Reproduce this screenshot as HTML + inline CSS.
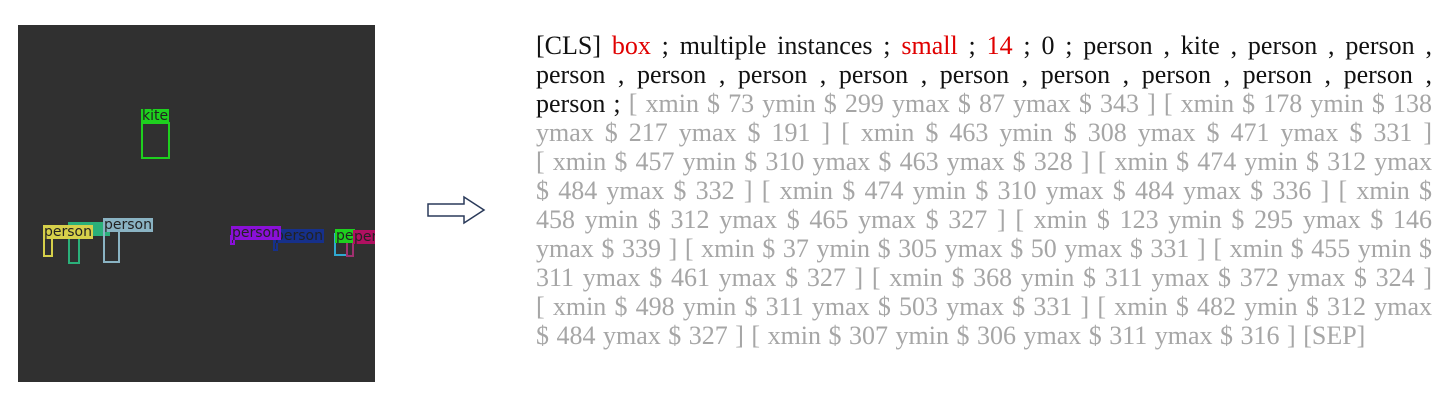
<!DOCTYPE html>
<html><head><meta charset="utf-8"><style>
body{margin:0;width:1450px;height:402px;background:#fff;position:relative;overflow:hidden;font-family:"Liberation Serif",serif}
.img{position:absolute;left:18px;top:25px;width:357px;height:357px;background:#303030;overflow:hidden}
.b{position:absolute;box-sizing:border-box;border:2px solid}
.l{position:absolute;font-family:"DejaVu Sans",sans-serif;font-size:14px;line-height:14px;padding:0 1px;color:#222;white-space:nowrap;overflow:hidden}
.t{position:absolute;left:536px;width:896px;top:31px;font-size:26px;line-height:29px;color:#111}
.t div{text-align:justify;text-align-last:justify;white-space:nowrap;height:29px}
.t div.n{text-align-last:left;word-spacing:1px}
.r{color:#e00000}.g{color:#a6a6a6}
</style></head><body>
<div class="img">
 <div class="b" style="left:123px;top:97px;width:29px;height:37px;border-color:#1ed01e"></div>
 <div class="l" style="left:123px;top:84px;background:#1ed01e">kite</div>
 <div class="b" style="left:50px;top:201px;width:12px;height:38px;border-color:#2bb07a"></div>
 <div class="l" style="left:50px;top:197px;background:#2bb07a;width:40px">so</div>
 <div class="b" style="left:25px;top:210px;width:10px;height:22px;border-color:#d6d04a"></div>
 <div class="l" style="left:25px;top:200px;background:#d6d04a">person</div>
 <div class="b" style="left:85px;top:205px;width:17px;height:33px;border-color:#8ab3c3"></div>
 <div class="l" style="left:85px;top:193px;background:#8ab3c3">person</div>
 <div class="b" style="left:212px;top:210px;width:5px;height:10px;border-color:#8a10d8"></div>
 <div class="b" style="left:255px;top:212px;width:5px;height:14px;border-color:#16308a"></div>
 <div class="l" style="left:256px;top:204px;background:#16308a;width:48px">person</div>
 <div class="l" style="left:213px;top:201px;background:#8a10d8">person</div>
 <div class="b" style="left:316px;top:208px;width:14px;height:23px;border-color:#30a8d0"></div>
 <div class="b" style="left:328px;top:212px;width:8px;height:20px;border-color:#a03070"></div>
 <div class="l" style="left:317px;top:204px;background:#1ed01e;width:18px">pe</div>
 <div class="l" style="left:335px;top:205px;background:#b01060;width:25px">per</div>
</div>
<svg style="position:absolute;left:426px;top:194px" width="62" height="32"><path d="M2 10 H38 V3 L58 16 L38 29 V22 H2 Z" fill="#fff" stroke="#2a3a5a" stroke-width="1.5"/></svg>
<div class="t">
<div>[CLS] <span class="r">box</span> ; multiple instances ; <span class="r">small</span> ; <span class="r">14</span> ; 0 ; person , kite , person , person ,</div>
<div>person , person , person , person , person , person , person , person , person ,</div>
<div>person ; <span class="g">[ xmin $ 73 ymin $ 299 ymax $ 87 ymax $ 343 ] [ xmin $ 178 ymin $ 138</span></div>
<div class="g">ymax $ 217 ymax $ 191 ] [ xmin $ 463 ymin $ 308 ymax $ 471 ymax $ 331 ]</div>
<div class="g">[ xmin $ 457 ymin $ 310 ymax $ 463 ymax $ 328 ] [ xmin $ 474 ymin $ 312 ymax</div>
<div class="g">$ 484 ymax $ 332 ] [ xmin $ 474 ymin $ 310 ymax $ 484 ymax $ 336 ] [ xmin $</div>
<div class="g">458 ymin $ 312 ymax $ 465 ymax $ 327 ] [ xmin $ 123 ymin $ 295 ymax $ 146</div>
<div class="g">ymax $ 339 ] [ xmin $ 37 ymin $ 305 ymax $ 50 ymax $ 331 ] [ xmin $ 455 ymin $</div>
<div class="g">311 ymax $ 461 ymax $ 327 ] [ xmin $ 368 ymin $ 311 ymax $ 372 ymax $ 324 ]</div>
<div class="g">[ xmin $ 498 ymin $ 311 ymax $ 503 ymax $ 331 ] [ xmin $ 482 ymin $ 312 ymax</div>
<div class="g n">$ 484 ymax $ 327 ] [ xmin $ 307 ymin $ 306 ymax $ 311 ymax $ 316 ] [SEP]</div>
</div>
</body></html>
